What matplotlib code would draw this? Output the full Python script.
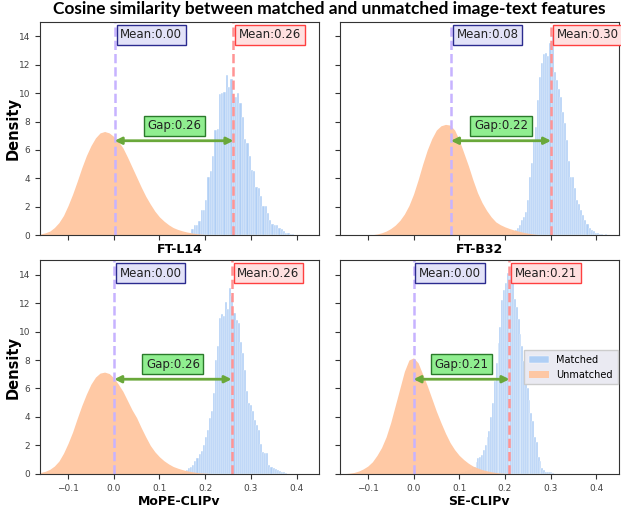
import numpy as np
import matplotlib.pyplot as plt

names = ['FT-L14', 'FT-B32', 'MoPE-CLIPv', 'SE-CLIPv']
mean_unmatched = [0.002, 0.082, 0.001, 0.000]
mean_matched = [0.262, 0.301, 0.258, 0.210]

# matched: histogram bars (first edge, bin width, heights)
l14_bin0, l14_binw = 0.155, 0.005
l14_matched = [0.10, 0.15, 0.20, 0.45, 0.70, 0.75, 1.00, 1.75, 1.80, 2.50,
               4.10, 4.50, 5.60, 7.40, 7.50, 9.90, 10.00, 10.05, 11.30, 10.40,
               11.00, 9.70, 9.75, 10.00, 9.30, 8.30, 6.80, 6.50, 5.60, 4.60,
               4.50, 3.40, 3.30, 2.80, 2.10, 2.10, 1.60, 1.10, 0.77, 0.75,
               0.70, 0.50, 0.45, 0.30, 0.15, 0.15, 0.10, 0.10, 0.05, 0.03]

b32_bin0, b32_binw = 0.2075, 0.0045
b32_matched = [0.05, 0.10, 0.30, 0.40, 0.55, 0.75, 1.05, 1.30, 1.65, 2.50,
               4.10, 5.10, 6.70, 7.60, 9.50, 11.15, 12.10, 12.75, 12.80, 12.60,
               13.50, 14.10, 11.50, 10.90, 10.30, 9.70, 8.70, 7.90, 6.70, 5.20,
               4.10, 4.10, 3.30, 2.50, 2.20, 1.80, 1.40, 1.10, 0.82, 0.50,
               0.35, 0.30, 0.20, 0.15, 0.10, 0.08, 0.05, 0.10, 0.05, 0.03]

mope_bin0, mope_binw = 0.145, 0.0045
mope_matched = [0.05, 0.10, 0.20, 0.28, 0.40, 0.50, 0.65, 0.87, 1.10, 1.40,
                1.60, 2.04, 2.60, 3.10, 3.90, 4.40, 5.70, 8.00, 9.00, 10.96,
                11.20, 11.08, 12.10, 11.55, 13.08, 12.50, 11.30, 10.80, 10.60, 9.30,
                8.50, 7.30, 5.80, 5.00, 4.86, 4.40, 3.80, 3.40, 3.10, 2.10,
                1.57, 1.50, 1.46, 0.60, 0.50, 0.40, 0.35, 0.28, 0.20, 0.15,
                0.15, 0.05]

se_bin0, se_binw = 0.100, 0.004
se_matched = [0.05, 0.10, 0.15, 0.20, 0.25, 0.30, 0.35, 0.45, 0.50, 0.80,
              1.10, 1.20, 1.34, 1.70, 2.04, 2.60, 3.00, 4.00, 5.00, 6.50,
              7.80, 9.20, 10.30, 12.25, 12.90, 13.40, 14.10, 14.37, 14.30, 13.66,
              12.30, 11.70, 10.85, 9.80, 8.96, 7.90, 7.30, 6.00, 5.20, 4.30,
              3.70, 2.60, 2.27, 1.20, 0.90, 0.40, 0.28, 0.15, 0.10, 0.10,
              0.10, 0.05]

# unmatched: density read every 0.01, starting at x0
l14_x0 = -0.16
l14_unmatched = [0.10, 0.18, 0.30, 0.55, 0.90, 1.40, 2.10, 2.90, 3.80, 4.75,
                 5.60, 6.30, 6.85, 7.20, 7.30, 7.20, 6.95, 6.60, 6.15, 5.50,
                 4.80, 4.10, 3.40, 2.75, 2.20, 1.70, 1.30, 1.00, 0.75, 0.55,
                 0.42, 0.32, 0.24, 0.18, 0.13, 0.09, 0.06, 0.04, 0.02, 0.01,
                 0.00]

b32_x0 = -0.12
b32_unmatched = [0.00, 0.01, 0.02, 0.05, 0.10, 0.18, 0.30, 0.48, 0.72, 1.05,
                 1.50, 2.10, 2.90, 3.90, 5.00, 6.00, 6.80, 7.40, 7.70, 7.80,
                 7.75, 7.40, 6.70, 5.80, 4.90, 3.90, 3.00, 2.30, 1.75, 1.30,
                 0.95, 0.75, 0.60, 0.48, 0.38, 0.30, 0.22, 0.16, 0.11, 0.07,
                 0.04, 0.02, 0.00]

mope_x0 = -0.16
mope_unmatched = [0.10, 0.18, 0.32, 0.55, 0.90, 1.45, 2.15, 2.95, 3.90, 4.80,
                  5.60, 6.30, 6.80, 7.08, 7.15, 7.05, 6.75, 6.30, 5.80, 5.15,
                  4.50, 3.95, 3.25, 2.60, 2.00, 1.55, 1.20, 0.92, 0.70, 0.52,
                  0.40, 0.30, 0.22, 0.16, 0.11, 0.07, 0.05, 0.03, 0.02, 0.01,
                  0.00]

se_x0 = -0.16
se_unmatched = [0.00, 0.02, 0.05, 0.10, 0.20, 0.35, 0.55, 0.85, 1.30, 1.85,
                2.60, 3.60, 4.80, 6.00, 7.20, 8.00, 8.15, 7.80, 7.00, 6.20,
                5.30, 4.40, 3.60, 2.85, 2.20, 1.70, 1.30, 1.00, 0.75, 0.55,
                0.42, 0.30, 0.22, 0.15, 0.10, 0.06, 0.04, 0.02, 0.00]

matched = [(l14_bin0, l14_binw, l14_matched), (b32_bin0, b32_binw, b32_matched),
           (mope_bin0, mope_binw, mope_matched), (se_bin0, se_binw, se_matched)]
unmatched = [(l14_x0, l14_unmatched), (b32_x0, b32_unmatched),
             (mope_x0, mope_unmatched), (se_x0, se_unmatched)]

blue = '#b0cff5'
orange = '#ffc6a0'

fig, axes = plt.subplots(2, 2, figsize=(6.21, 5.09), dpi=100, sharex=True, sharey=True)
fig.subplots_adjust(left=0.064, right=0.997, top=0.957, bottom=0.069, wspace=0.072, hspace=0.117)

for i, ax in enumerate(axes.flat):
    b0, bw, h = matched[i]
    edges = b0 + bw * np.arange(len(h))
    bars = ax.bar(edges, h, width=bw, align='edge', color=blue, edgecolor='white',
                  linewidth=0.3, label='Matched')
    x0, d = unmatched[i]
    xs = x0 + 0.01 * np.arange(len(d))
    fill = ax.fill_between(xs, d, color=orange, alpha=0.95, linewidth=0, label='Unmatched')

    m0, m1 = mean_unmatched[i], mean_matched[i]
    ax.axvline(m0, color='#c7b3ff', ls='--', lw=1.8)
    ax.axvline(m1, color='#ff9494', ls='--', lw=1.8)
    ax.text(m0 + 0.012, 14.1, 'Mean:%.2f' % m0, ha='left', va='center', fontsize=8.5,
            color='#222222',
            bbox=dict(boxstyle='square,pad=0.3', facecolor='#e2e2f8', edgecolor='#2b2b8f', lw=1))
    ax.text(m1 + 0.012, 14.1, 'Mean:%.2f' % m1, ha='left', va='center', fontsize=8.5,
            color='#222222',
            bbox=dict(boxstyle='square,pad=0.3', facecolor='#ffe0e0', edgecolor='#ff4040', lw=1))

    ax.annotate('', xy=(m1, 6.65), xytext=(m0, 6.65),
                arrowprops=dict(arrowstyle='<|-|>', color='#6aa83a', lw=2,
                                mutation_scale=10, shrinkA=0, shrinkB=0))
    ax.text((m0 + m1) / 2, 7.7, 'Gap:%.2f' % (m1 - m0), ha='center', va='center',
            fontsize=8.5, color='#222222',
            bbox=dict(boxstyle='square,pad=0.3', facecolor='#90ee90', edgecolor='#2a7a2a', lw=1))

    ax.set_xlim(-0.162, 0.45)
    ax.set_ylim(0, 15)
    ax.set_xticks([-0.1, 0.0, 0.1, 0.2, 0.3, 0.4])
    ax.set_yticks(range(0, 15, 2))
    ax.tick_params(labelsize=6.5, labelcolor='#444444', length=3.5, color='#333333')
    for s in ax.spines.values():
        s.set_color('#333333')
    ax.set_xlabel(names[i], fontsize=9, fontweight='bold', labelpad=2)
    if i % 2 == 0:
        ax.set_ylabel('Density', fontsize=10.5, fontweight='bold')
        ax.yaxis.set_label_coords(-0.07, 0.5)

for ax in axes[0]:
    ax.tick_params(labelbottom=False)

axes[1, 1].legend([bars, fill], ['Matched', 'Unmatched'], loc='center right', fontsize=7,
                  facecolor='#eaeaf2', edgecolor='#cccccc', framealpha=1, fancybox=False,
                  borderpad=0.5, borderaxespad=0.15)

fig.suptitle('Cosine similarity between matched and unmatched image-text features',
             x=0.53, y=0.998, fontsize=12.5, fontweight='bold', family='Lato')

fig.savefig('out.png', dpi=100)
